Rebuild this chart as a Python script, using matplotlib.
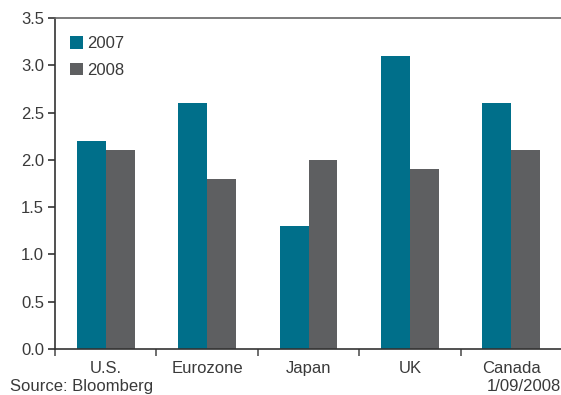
import matplotlib
matplotlib.use('Agg')
import numpy as np
import matplotlib.pyplot as plt

# data
categories = ['U.S.', 'Eurozone', 'Japan', 'UK', 'Canada']
vals_2007 = [2.2, 2.6, 1.3, 3.1, 2.6]
vals_2008 = [2.1, 1.8, 2.0, 1.9, 2.1]
series_labels = ['2007', '2008']
yticks = [0.0, 0.5, 1.0, 1.5, 2.0, 2.5, 3.0, 3.5]

teal = '#006F8A'
grey = '#5E5F61'
txt = '#3A3A3A'

plt.rcParams['font.family'] = ['Liberation Sans', 'DejaVu Sans']

fig = plt.figure(figsize=(5.61, 3.95), dpi=100)
ax = fig.add_axes([55 / 561, 46 / 395, 507 / 561, 331 / 395])

x = np.arange(len(categories))
w = 0.285
ax.bar(x - w / 2, vals_2007, w, color=teal, label=series_labels[0])
ax.bar(x + w / 2, vals_2008, w, color=grey, label=series_labels[1])

ax.set_xlim(-0.5, len(categories) - 0.5)
ax.set_ylim(0, 3.5)
ax.set_yticks(yticks)
ax.set_yticklabels([f'{v:.1f}' for v in yticks])

# category labels between boundary ticks
ax.set_xticks(np.arange(len(categories) + 1) - 0.5)
ax.set_xticklabels([])
ax.set_xticks(x, minor=True)
ax.set_xticklabels(categories, minor=True)
ax.tick_params(axis='x', which='minor', length=0, pad=8.5, labelsize=12, labelcolor=txt)
ax.tick_params(axis='x', which='major', length=5, width=1.2, color='#555555')
ax.tick_params(axis='y', length=5, width=1.2, color='#333333', labelsize=12,
               labelcolor=txt, pad=3)

for s in ['left', 'bottom']:
    ax.spines[s].set_color('#333333')
    ax.spines[s].set_linewidth(1.2)
ax.spines['top'].set_color('#666666')
ax.spines['top'].set_linewidth(1.2)
ax.spines['right'].set_visible(False)

ax.legend(loc='upper left', bbox_to_anchor=(0.0, 0.99), frameon=False,
          fontsize=12, handlelength=0.75, handleheight=0.75, handletextpad=0.3,
          labelspacing=0.7, labelcolor=txt)

fig.text(10 / 561, 1 / 395, 'Source: Bloomberg', fontsize=12, color=txt,
         ha='left', va='bottom')
fig.text(561 / 561, 1 / 395, '1/09/2008', fontsize=12, color=txt,
         ha='right', va='bottom')

fig.savefig('out.png', dpi=100)
